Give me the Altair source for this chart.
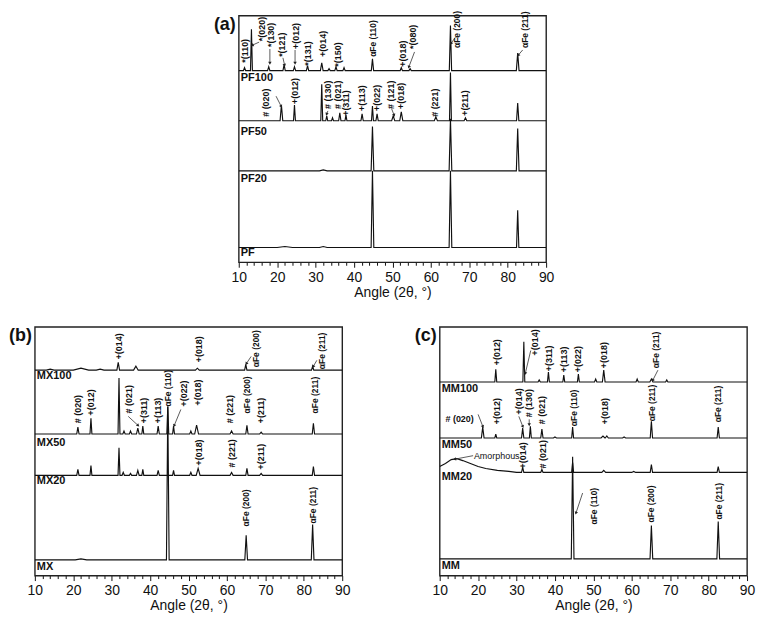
import math
import altair as alt
import pandas as pd

FONT = "Liberation Sans"
INK = "#111111"
W = 309                      # plot width of every panel (px)
H_A, DOM_A = 248, 251        # panel (a): plot height (px) and intensity range (a.u.)
H_BC, DOM_BC = 250, 253      # panels (b), (c)

# ---------------- Panel (a): baselines (a.u.) and peaks (2theta, height, half-width)
PF100_base = 195
PF100_peaks = [(11.5, 3, 0.3), (13.3, 42, 0.25), (17.8, 4, 0.3), (21.8, 6, 0.3), (24.5, 4, 0.3),
               (27.9, 5, 0.3), (31.6, 8, 0.35), (33.5, 2, 0.3), (35.3, 4, 0.3), (37.4, 3, 0.3),
               (44.8, 12, 0.3), (52.3, 3, 0.3), (54.6, 2, 0.3), (65.1, 46, 0.3), (82.6, 18, 0.35)]
PF50_base = 144
PF50_peaks = [(21.1, 16, 0.35), (24.5, 16, 0.25), (31.6, 37, 0.25), (32.9, 5, 0.25), (34.4, 3, 0.25),
              (36.3, 8, 0.3), (37.9, 6, 0.25), (42.1, 7, 0.3), (44.8, 15, 0.25), (46.0, 7, 0.3),
              (50.2, 5, 0.4), (52.3, 9, 0.4), (61.3, 4, 0.4), (65.1, 49, 0.25), (69.0, 3, 0.35),
              (82.6, 18, 0.3)]
PF20_base = 93
PF20_peaks = [(32.0, 1, 1.0), (44.8, 45, 0.35), (65.1, 53, 0.35), (82.6, 43, 0.35)]
PF_base = 15
PF_peaks = [(22.0, 1, 2.0), (32.0, 1, 1.0), (44.8, 78, 0.35), (65.1, 78, 0.35), (82.6, 38, 0.3)]

# ---------------- Panel (b)
MX100_base = 209
MX100_peaks = [(14.0, 1, 1.0), (22.0, 2, 2.0), (27.0, 1, 1.0), (31.7, 8, 0.35), (36.3, 4, 0.6),
               (52.3, 2, 0.5), (64.9, 6, 0.3), (82.3, 4, 0.3)]
MX50_base = 144
MX50_peaks = [(21.2, 7, 0.3), (24.6, 16, 0.25), (31.9, 57, 0.25), (33.2, 3, 0.3), (34.9, 3, 0.3),
              (36.8, 6, 0.35), (38.1, 8, 0.25), (42.1, 8, 0.3), (44.6, 28, 0.25), (46.1, 8, 0.25),
              (50.6, 3, 0.3), (52.1, 9, 0.5), (61.2, 3, 0.4), (65.2, 9, 0.3), (68.9, 2, 0.4),
              (82.5, 11, 0.3)]
MX20_base = 102
MX20_peaks = [(21.2, 6, 0.3), (24.6, 10, 0.25), (31.9, 28, 0.25), (33.0, 3, 0.3), (34.9, 2, 0.3),
              (36.8, 5, 0.35), (38.1, 6, 0.25), (42.1, 5, 0.3), (46.1, 5, 0.25), (50.6, 3, 0.3),
              (52.5, 7, 0.5), (61.2, 3, 0.4), (65.2, 7, 0.3), (68.9, 2, 0.4), (82.5, 9, 0.3)]
MX_base = 16
MX_peaks = [(22.0, 1, 1.5), (44.6, 156, 0.35), (65.0, 25, 0.35), (82.3, 36, 0.35)]

# ---------------- Panel (c)
MM100_base = 197
MM100_peaks = [(24.6, 13, 0.25), (31.9, 41, 0.25), (35.9, 2, 0.3), (38.3, 10, 0.25), (42.3, 7, 0.25),
               (46.1, 8, 0.25), (50.6, 3, 0.3), (52.7, 12, 0.35), (61.4, 3, 0.3), (65.1, 3, 0.4),
               (69.1, 2, 0.3)]
MM50_base = 140
MM50_peaks = [(21.2, 11, 0.35), (24.6, 4, 0.25), (31.6, 10, 0.3), (33.6, 12, 0.25), (36.6, 9, 0.3),
              (40.0, 1, 0.4), (44.6, 11, 0.25), (52.5, 2, 0.5), (53.5, 2, 0.4), (58.0, 1, 0.4),
              (65.1, 17, 0.3), (82.5, 11, 0.3)]
MM20_base = 105
MM20_hump = [(10, 111), (11.5, 114), (13, 118), (14.5, 119), (16, 117), (18, 114), (20, 111),
             (22, 109), (25, 107), (28, 106), (30, 105)]
MM20_peaks = [(31.6, 5, 0.3), (36.6, 3, 0.3), (44.6, 10, 0.25), (52.7, 2, 0.5), (60.5, 1, 0.5),
              (65.1, 8, 0.3), (82.5, 6, 0.3)]
MM_base = 17
MM_peaks = [(44.6, 104, 0.35), (65.1, 34, 0.35), (82.5, 38, 0.35)]

# ---------------- Sample names and label levels (a.u.)
A_samples = [("PF100", 194), ("PF50", 139), ("PF20", 91), ("PF", 15)]
B_samples = [("MX100", 209), ("MX50", 141), ("MX20", 102), ("MX", 15)]
C_samples = [("MM100", 196), ("MM50", 139), ("MM20", 106), ("MM", 16)]

# ---------------- Peak-index labels (text, 2theta, intensity at label start)
A_labels = [("*(110)", 11.6, 203), ("*(020)", 16.0, 225), ("*(130)", 18.3, 219), ("*(121)", 21.2, 209),
            ("+(012)", 24.9, 217), ("*(131)", 28.1, 200), ("+(014)", 32.0, 209), ("*(150)", 35.9, 199),
            ("αFe (110)", 45.0, 209), ("+(018)", 52.7, 199), ("*(080)", 55.3, 217),
            ("αFe (200)", 66.8, 218), ("αFe (211)", 84.6, 218),
            ("# (020)", 17.2, 148), ("+(012)", 24.7, 161), ("# (130)", 33.2, 156), ("# (021)", 35.9, 156),
            ("+(311)", 38.0, 149), ("+(113)", 42.1, 154), ("+(022)", 46.0, 154), ("# (121)", 49.6, 156),
            ("+(018)", 52.3, 156), ("# (221)", 61.1, 148), ("+(211)", 69.0, 149)]
B_labels = [("+(014)", 31.9, 220), ("+(018)", 52.7, 217), ("αFe (200)", 67.6, 212), ("αFe (211)", 84.8, 210),
            ("# (020)", 21.2, 155), ("+(012)", 24.6, 163), ("# (021)", 34.4, 165), ("+(311)", 38.5, 155),
            ("+(113)", 42.1, 155), ("αFe (110)", 44.6, 172), ("+(022)", 48.9, 172), ("+(018)", 52.5, 173),
            ("# (221)", 60.8, 155), ("αFe (200)", 65.3, 165), ("+(211)", 68.9, 155), ("αFe (211)", 82.8, 165),
            ("+(018)", 52.7, 112), ("# (221)", 61.2, 110), ("+(211)", 68.9, 108),
            ("αFe (200)", 65.0, 50), ("αFe (211)", 82.5, 53)]
C_labels = [("+(012)", 24.8, 214), ("+(014)", 34.7, 224), ("+(311)", 38.4, 208), ("+(113)", 42.3, 207),
            ("+(022)", 46.1, 207), ("+(018)", 52.8, 211), ("αFe (211)", 66.2, 211),
            ("+(012)", 24.8, 154), ("+(014)", 30.6, 164), ("# (130)", 33.3, 161), ("# (021)", 36.7, 154),
            ("αFe (110)", 44.9, 152), ("+(018)", 53.1, 154), ("αFe (211)", 65.2, 157), ("αFe (211)", 82.5, 156),
            ("+(014)", 31.7, 109), ("# (021)", 36.8, 109),
            ("αFe (110)", 50.2, 52), ("αFe (200)", 65.1, 54), ("αFe (211)", 82.6, 57)]
C_flat = [("# (020)", 11.5, 159, "bold"), ("Amorphous", 18.9, 122, "normal")]

# ---------------- Arrows (from 2theta, from I, to 2theta, to I)
A_arrows = [(15.3, 224, 13.6, 221), (18.1, 217, 18.1, 203), (21.5, 208, 21.9, 201), (24.65, 216, 24.65, 203),
            (55.75, 214, 54.3, 199), (66.4, 229, 65.3, 223), (83.9, 216, 82.8, 211),
            (19.7, 169, 21.0, 159), (33.2, 154, 32.9, 151), (49.8, 156, 50.4, 150)]
B_arrows = [(66.3, 223, 65.1, 216), (83.4, 219, 82.5, 213), (34.3, 162, 36.8, 153), (48.0, 169, 46.3, 153)]
C_arrows = [(33.7, 229, 32.3, 206), (66.8, 209, 65.5, 199), (20.0, 164, 21.2, 152), (30.6, 162, 31.6, 152),
            (33.3, 159, 33.3, 154), (18.7, 122, 14.0, 118.5), (47.2, 84, 45.5, 64)]


def trace_rows(name, base, peaks, lead=None):
    pts = list(lead) if lead else [(10, base)]
    for pos, h, hw in peaks:
        pts += [(pos - hw, base), (pos, base + h), (pos + hw, base)]
    pts.append((90, base))
    return [{"sample": name, "angle": x, "I": y, "i": k} for k, (x, y) in enumerate(pts)]


x_axis = alt.Axis(
    values=list(range(10, 91, 2)),
    labelExpr="datum.value % 10 == 0 ? datum.label : ''",
    tickSize={"condition": {"test": "datum.value % 10 == 0", "value": 5}, "value": 3},
    tickColor=INK, tickWidth=1, domain=False, grid=False, labelFlush=False, labelOverlap=False,
    labelFont=FONT, labelFontSize=14, labelColor=INK, labelPadding=3,
    title="Angle (2θ, °)", titleFont=FONT, titleFontSize=14, titleFontWeight="normal",
    titleColor=INK, titlePadding=1,
)

FRAME = alt.ViewBackground(stroke="#222222", strokeWidth=1.4)


def panel(traces, samples, labels, arrows, letter, h, dom, flat=None):
    xenc = alt.X("angle:Q", scale=alt.Scale(domain=[10, 90], nice=False), axis=x_axis)
    yenc = alt.Y("I:Q", scale=alt.Scale(domain=[0, dom], nice=False), axis=None)
    rows = []
    for t in traces:
        rows += trace_rows(*t)
    layers = [
        alt.Chart(pd.DataFrame(rows)).mark_line(color=INK, strokeWidth=1.15, clip=True)
        .encode(x=xenc, y=yenc, detail="sample:N", order="i:Q")
    ]
    ldf = pd.DataFrame(labels, columns=["t", "angle", "I"])
    ldf["fs"] = [8.5 if t.startswith("α") else 9.0 for t in ldf["t"]]
    layers.append(
        alt.Chart(ldf)
        .mark_text(angle=270, align="left", baseline="middle", font=FONT,
                   fontWeight="bold", color=INK)
        .encode(x=xenc, y=yenc, text="t:N", size=alt.Size("fs:Q", scale=None, legend=None))
    )
    layers.append(
        alt.Chart(pd.DataFrame(samples, columns=["t", "I"]))
        .mark_text(align="left", baseline="top", font=FONT, fontSize=11, fontWeight="bold", color=INK)
        .encode(x=alt.value(2), y=yenc, text="t:N")
    )
    if flat:
        for t, a, v, wgt in flat:
            layers.append(
                alt.Chart(pd.DataFrame([(t, a, v)], columns=["t", "angle", "I"]))
                .mark_text(align="left", baseline="middle", font=FONT, fontSize=9, fontWeight=wgt, color=INK)
                .encode(x=xenc, y=yenc, text="t:N")
            )
    adf = pd.DataFrame(arrows, columns=["angle", "I", "angle2", "I2"])
    layers.append(
        alt.Chart(adf).mark_rule(color="#333333", strokeWidth=0.8)
        .encode(x=xenc, y=yenc, x2="angle2:Q", y2="I2:Q")
    )
    heads = pd.DataFrame({
        "angle": adf["angle2"], "I": adf["I2"],
        "rot": [math.degrees(math.atan2((r.angle2 - r.angle) * W / 80.0, (r.I2 - r.I) * h / dom)) % 360
                for r in adf.itertuples()],
    })
    layers.append(
        alt.Chart(heads).mark_point(shape="triangle", filled=True, size=12, color="#222222", opacity=1)
        .encode(x=xenc, y=yenc, angle=alt.Angle("rot:Q", scale=None))
    )
    layers.append(
        alt.Chart(pd.DataFrame({"t": [letter]}))
        .mark_text(align="right", baseline="top", font=FONT, fontSize=18, fontWeight="bold", color=INK)
        .encode(x=alt.value(-3), y=alt.value(0), text="t:N")
    )
    return alt.layer(*layers).properties(width=W, height=h, view=FRAME)


pa = panel([("PF100", PF100_base, PF100_peaks), ("PF50", PF50_base, PF50_peaks),
            ("PF20", PF20_base, PF20_peaks), ("PF", PF_base, PF_peaks)],
           A_samples, A_labels, A_arrows, "(a)", H_A, DOM_A)
pb = panel([("MX100", MX100_base, MX100_peaks), ("MX50", MX50_base, MX50_peaks),
            ("MX20", MX20_base, MX20_peaks), ("MX", MX_base, MX_peaks)],
           B_samples, B_labels, B_arrows, "(b)", H_BC, DOM_BC)
pc = panel([("MM100", MM100_base, MM100_peaks), ("MM50", MM50_base, MM50_peaks),
            ("MM20", MM20_base, MM20_peaks, MM20_hump), ("MM", MM_base, MM_peaks)],
           C_samples, C_labels, C_arrows, "(c)", H_BC, DOM_BC, flat=C_flat)

# empty, borderless spacer that shifts panel (a) to the middle of the figure
spacer = (
    alt.Chart(pd.DataFrame({"t": [""]})).mark_text(opacity=0)
    .encode(x=alt.value(0), y=alt.value(0), text="t:N")
    .properties(width=197, height=10, view=alt.ViewBackground(strokeOpacity=0, strokeWidth=0))
)

chart = (
    alt.vconcat(
        alt.hconcat(spacer, pa, spacing=8, bounds="flush"),
        alt.hconcat(pb, pc, spacing=98, bounds="flush"),
        spacing=26,
    )
    .properties(padding=0, background="white")
    .configure_view(stroke="#222222", strokeWidth=1.4)
)

chart.save("out.html", embed_options={"renderer": "svg", "actions": False})
